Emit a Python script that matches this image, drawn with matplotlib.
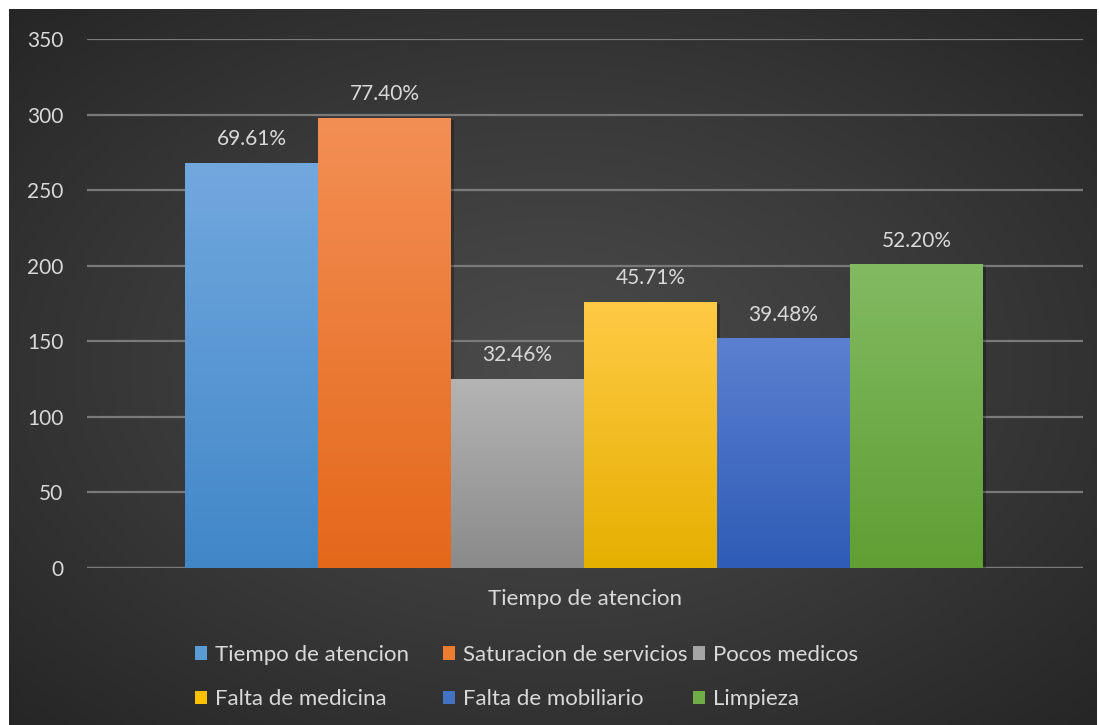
import numpy as np
import matplotlib
matplotlib.use("Agg")
import matplotlib.pyplot as plt
from matplotlib.colors import LinearSegmentedColormap
from matplotlib.patches import Rectangle

# Chart data
category = "Tiempo de atencion"
series_names = ["Tiempo de atencion", "Saturacion de servicios", "Pocos medicos",
                "Falta de medicina", "Falta de mobiliario", "Limpieza"]
counts = [268, 298, 125, 176, 152, 201]
pct_labels = ["69.61%", "77.40%", "32.46%", "45.71%", "39.48%", "52.20%"]
yticks = [0, 50, 100, 150, 200, 250, 300, 350]

# Gradient colours (top, bottom) per series
top_colors = ["#72a8de", "#f38f55", "#b4b4b4", "#ffca45", "#5b80d0", "#82ba62"]
bottom_colors = ["#4187c8", "#e4681a", "#8a8a8a", "#e5b000", "#2f5cb6", "#5f9f33"]
legend_colors = ["#5b9bd5", "#ed7d31", "#a5a5a5", "#ffc000", "#4472c4", "#70ad47"]

plt.rcParams['font.family'] = ['Lato', 'DejaVu Sans']
txt = "#d9d9d9"
num_size = 15
text_size = 16

W, H = 10.99, 7.25
fig = plt.figure(figsize=(W, H), dpi=100, facecolor="white")

# Dark radial-gradient chart background
bg = fig.add_axes([9 / 1099, 0, 1088 / 1099, 716 / 725])
bg.set_axis_off()
yy, xx = np.mgrid[-1:1:300j, -1:1:450j]
r = np.sqrt(xx ** 2 + yy ** 2) / np.sqrt(2)
bg_cmap = LinearSegmentedColormap.from_list("bg", ["#4b4b4b", "#3a3a3a", "#262626"])
bg.imshow(r, cmap=bg_cmap, aspect="auto", extent=[0, 1, 0, 1], vmin=0, vmax=1)
bg.set_xlim(0, 1)
bg.set_ylim(0, 1)

# Plot area
ax = fig.add_axes([87 / 1099, 1 - 568 / 725, (1083 - 87) / 1099, (568 - 39) / 725])
ax.patch.set_alpha(0)
for s in ax.spines.values():
    s.set_visible(False)
ax.set_yticks(yticks)
ax.yaxis.grid(True, color="#7a7a7a", linewidth=1.6)
ax.set_axisbelow(True)
ax.tick_params(axis="y", length=0, pad=17, labelcolor=txt, labelsize=num_size)
ax.set_xticks([])

n = len(counts)
group_w = 0.801
bw = group_w / n
x0 = -group_w / 2 - 0.001
grad = np.linspace(1, 0, 256).reshape(-1, 1)
for i, (v, lab) in enumerate(zip(counts, pct_labels)):
    left = x0 + i * bw
    # soft shadow
    ax.add_patch(Rectangle((left + 0.003, -1.5), bw, v, facecolor="black",
                           alpha=0.25, edgecolor="none", zorder=2))
    bar = ax.bar(left, v, width=bw, align="edge", color=legend_colors[i],
                 edgecolor="none", zorder=3)[0]
    cmap = LinearSegmentedColormap.from_list(f"g{i}", [bottom_colors[i], top_colors[i]])
    im = ax.imshow(grad, cmap=cmap, aspect="auto", extent=[left, left + bw, 0, v],
                   zorder=4, vmin=0, vmax=1)
    im.set_clip_path(bar)
    ax.text(left + bw / 2, v + 9, lab, ha="center", va="bottom", color=txt,
            fontsize=num_size, zorder=5)

ax.axhline(0, color="#7a7a7a", linewidth=1.6, zorder=1)
ax.set_xlim(-0.5, 0.5)
ax.set_ylim(0, 350)

fig.text(585 / 1099, 1 - 599 / 725, category, ha="center", va="center",
         color=txt, fontsize=text_size)

# Legend: three columns of two rows, filled row by row
handles = [Rectangle((0, 0), 1, 1, facecolor=c, edgecolor="none") for c in legend_colors]
col_left = [195, 443, 693]
for c in range(3):
    idx = [c, c + 3]
    leg = fig.legend([handles[k] for k in idx], [series_names[k] for k in idx],
                     ncol=1, loc="center left",
                     bbox_to_anchor=(col_left[c] / 1099, 1 - 677 / 725),
                     frameon=False, fontsize=text_size, labelcolor=txt,
                     handlelength=0.55, handleheight=0.55, handletextpad=0.33,
                     labelspacing=1.1, borderpad=0, borderaxespad=0)

fig.savefig("out.png", dpi=100, facecolor="white")
